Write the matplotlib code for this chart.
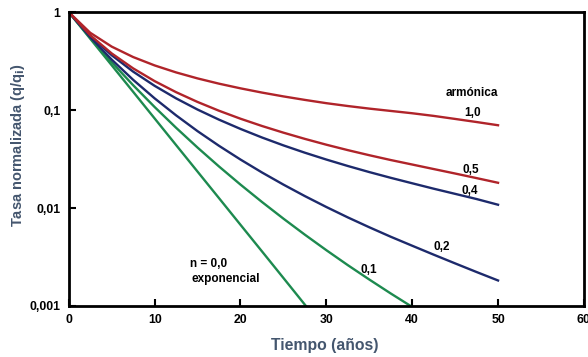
import matplotlib.pyplot as plt
from matplotlib.ticker import FixedLocator, FixedFormatter, NullLocator

plt.rcParams['font.family'] = ['Liberation Sans', 'DejaVu Sans']

# tiempo (años)
t = [0, 2.5, 5, 7.5, 10, 12.5, 15, 17.5, 20, 22.5, 25, 27.5, 30, 32.5, 35,
     37.5, 40, 42.5, 45, 47.5, 50]

# tasa normalizada q/qi
q_exp = [1, 0.535, 0.2865, 0.1535, 0.0821, 0.0439, 0.02352, 0.0126, 0.00674,
         0.00361, 0.00193, 0.00103, 0.000553]
q_01 = [1, 0.5454, 0.3079, 0.1793, 0.1074, 0.06593, 0.0414, 0.02654, 0.01734,
        0.01153, 0.00779, 0.00534, 0.00371, 0.00261, 0.001862, 0.001341, 0.000977]
q_02 = [1, 0.5549, 0.3277, 0.2035, 0.1317, 0.0883, 0.0609, 0.04315, 0.03125,
        0.02307, 0.01734, 0.01323, 0.01024, 0.00802, 0.00636, 0.00509, 0.00412,
        0.00334, 0.00272, 0.00222, 0.00182]
q_04 = [1, 0.5724, 0.3629, 0.2468, 0.1768, 0.1317, 0.1012, 0.0798, 0.0642,
        0.0525, 0.0436, 0.0367, 0.03125, 0.02686, 0.02328, 0.02034, 0.01789,
        0.01575, 0.01395, 0.01235, 0.0108]
q_05 = [1, 0.5805, 0.3787, 0.2664, 0.1975, 0.1523, 0.121, 0.0984, 0.0816,
        0.0688, 0.0588, 0.0508, 0.0443, 0.039, 0.0346, 0.0309, 0.0278, 0.0250,
        0.0225, 0.0202, 0.0181]
q_10 = [1, 0.6154, 0.4444, 0.3478, 0.2857, 0.2424, 0.2105, 0.186, 0.1667,
        0.1509, 0.1379, 0.127, 0.1176, 0.1100, 0.1035, 0.0980, 0.0928, 0.0872,
        0.0812, 0.0755, 0.0700]

red = '#b0242a'
navy = '#1d2a6c'
green = '#1d8a4f'
label_col = '#44566e'

fig = plt.figure(figsize=(5.88, 3.57), dpi=100)
ax = fig.add_axes([0.117, 0.143, 0.876, 0.823])

ax.plot(t[:len(q_exp)], q_exp, color=green, lw=1.7)
ax.plot(t[:len(q_01)], q_01, color=green, lw=1.7)
ax.plot(t, q_02, color=navy, lw=1.7)
ax.plot(t, q_04, color=navy, lw=1.7)
ax.plot(t, q_05, color=red, lw=1.7)
ax.plot(t, q_10, color=red, lw=1.7)

ax.set_yscale('log')
ax.set_xlim(0, 60)
ax.set_ylim(0.001, 1)

ax.xaxis.set_major_locator(FixedLocator([0, 10, 20, 30, 40, 50, 60]))
ax.yaxis.set_major_locator(FixedLocator([0.001, 0.01, 0.1, 1]))
ax.yaxis.set_major_formatter(FixedFormatter(['0,001', '0,01', '0,1', '1']))
ax.yaxis.set_minor_locator(NullLocator())
ax.tick_params(direction='in', length=5, width=1.5, labelsize=8.8, pad=6)
for lab in ax.get_xticklabels() + ax.get_yticklabels():
    lab.set_fontweight('bold')

for s in ax.spines.values():
    s.set_linewidth(2)

ax.set_xlabel('Tiempo (años)', fontsize=11.3, fontweight='bold', color=label_col)
ax.xaxis.set_label_coords(0.497, -0.108)
ax.set_ylabel('Tasa normalizada (q/q$_\\mathbf{i}$)', fontsize=10.5, fontweight='bold',
              color=label_col)
ax.yaxis.set_label_coords(-0.082, 0.548)

kw = dict(fontsize=8.5, fontweight='bold', ha='center', va='center')
ax.text(46.9, 0.150, 'armónica', **kw)
ax.text(47.0, 0.0925, '1,0', **kw)
ax.text(46.8, 0.0245, '0,5', **kw)
ax.text(46.7, 0.0150, '0,4', **kw)
ax.text(43.4, 0.0040, '0,2', **kw)
ax.text(35.0, 0.00233, '0,1', **kw)
ax.text(16.3, 0.00268, 'n = 0,0', **kw)
ax.text(18.3, 0.00188, 'exponencial', **kw)

fig.savefig('out.png', dpi=100)
